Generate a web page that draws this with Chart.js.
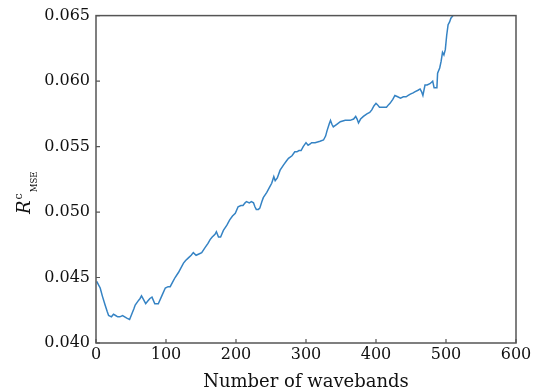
<!DOCTYPE html>
<html>
<head>
<meta charset="utf-8">
<script src="https://cdn.jsdelivr.net/npm/chart.js@4/dist/chart.umd.min.js"></script>
<style>
html,body{margin:0;padding:0;background:#fff;}
#wrap{width:542px;height:392px;position:relative;}
</style>
</head>
<body>
<div id="wrap"><canvas id="c" width="542" height="392"></canvas></div>
<script>
// Data
const wavebands = [1,4,6,9,13,16,18,22,25,28,31,34,38,41,44,48,51,54,56,60,63,65,67,71,74,77,80,84,89,94,99,103,106,110,113,118,121,125,128,132,136,139,143,147,151,156,160,163,166,170,172,175,178,182,187,191,195,199,203,207,210,213,215,219,222,225,227,229,232,234,237,239,244,248,251,254,256,259,263,268,272,275,280,284,287,290,293,296,300,303,306,308,313,320,325,328,330,333,335,337,339,344,349,356,363,368,371,373,375,378,382,387,391,394,397,400,402,405,408,412,415,418,420,424,427,431,435,439,443,446,449,453,456,460,463,465,467,470,473,477,481,483,485,487,488,491,493,495,497,499,501,503,505,507,510];
const rmse = [0.0447,0.0444,0.0442,0.0436,0.0429,0.0424,0.0421,0.0420,0.0422,0.0421,0.0420,0.0420,0.0421,0.0420,0.0419,0.0418,0.0422,0.0426,0.0429,0.0432,0.0434,0.0436,0.0434,0.0430,0.0432,0.0434,0.0435,0.0430,0.0430,0.0436,0.0442,0.0443,0.0443,0.0447,0.0450,0.0454,0.0457,0.0461,0.0463,0.0465,0.0467,0.0469,0.0467,0.0468,0.0469,0.0473,0.0476,0.0479,0.0481,0.0483,0.0485,0.0481,0.0481,0.0486,0.0490,0.0494,0.0497,0.0499,0.0504,0.0505,0.0505,0.0507,0.0508,0.0507,0.0508,0.0507,0.0504,0.0502,0.0502,0.0503,0.0508,0.0511,0.0515,0.0519,0.0522,0.0527,0.0524,0.0526,0.0532,0.0536,0.0539,0.0541,0.0543,0.0546,0.0546,0.0547,0.0547,0.0550,0.0553,0.0551,0.0552,0.0553,0.0553,0.0554,0.0555,0.0558,0.0562,0.0567,0.0570,0.0567,0.0565,0.0567,0.0569,0.0570,0.0570,0.0571,0.0573,0.0571,0.0568,0.0571,0.0573,0.0575,0.0576,0.0578,0.0581,0.0583,0.0582,0.0580,0.0580,0.0580,0.0580,0.0582,0.0583,0.0586,0.0589,0.0588,0.0587,0.0588,0.0588,0.0589,0.0590,0.0591,0.0592,0.0593,0.0594,0.0592,0.0589,0.0597,0.0597,0.0598,0.0600,0.0595,0.0595,0.0595,0.0606,0.0610,0.0615,0.0622,0.0620,0.0624,0.0635,0.0643,0.0645,0.0648,0.0650];
const xTicks = [0,100,200,300,400,500,600];
const yTicks = [0.040,0.045,0.050,0.055,0.060,0.065];
const xTitle = 'Number of wavebands';
const yTitleMain = 'R', yTitleSup = 'c', yTitleSub = 'MSE';

const points = wavebands.map((x,i)=>({x:x,y:rmse[i]}));
const SERIF = '"DejaVu Serif", "Liberation Serif", serif';

const framePlugin = {
  id:'frame',
  afterDraw(chart){
    const {ctx, chartArea:a, scales} = chart;
    ctx.save();
    ctx.strokeStyle = '#555';
    ctx.lineWidth = 1.5;
    ctx.strokeRect(a.left, a.top, a.right-a.left, a.bottom-a.top);
    ctx.lineWidth = 1.2;
    ctx.beginPath();
    yTicks.forEach(v=>{
      const y = scales.y.getPixelForValue(v);
      ctx.moveTo(a.left, y); ctx.lineTo(a.left+4, y);
    });
    xTicks.forEach(v=>{
      const x = scales.x.getPixelForValue(v);
      ctx.moveTo(x, a.bottom); ctx.lineTo(x, a.bottom-4);
    });
    ctx.stroke();
    // y title: italic R with superscript c and subscript MSE
    ctx.fillStyle = '#111';
    ctx.translate(30, 214);
    ctx.rotate(-Math.PI/2);
    ctx.textBaseline = 'alphabetic';
    ctx.textAlign = 'left';
    ctx.font = 'italic 18px ' + SERIF;
    ctx.fillText(yTitleMain, 0, 0);
    let w = ctx.measureText(yTitleMain).width;
    ctx.font = '11px ' + SERIF;
    ctx.fillText(yTitleSup, w + 1, -8);
    w += ctx.measureText(yTitleSup).width + 2;
    ctx.font = '8.5px ' + SERIF;
    ctx.fillText(yTitleSub, w, 7);
    ctx.restore();
  }
};

new Chart(document.getElementById('c'), {
  type:'line',
  data:{datasets:[{
    data: points,
    borderColor:'#3583c4',
    borderWidth:1.5,
    pointRadius:0,
    tension:0,
    fill:false,
    clip: {left:0, top:0, right:0, bottom:0}
  }]},
  options:{
    responsive:false,
    animation:false,
    layout:{padding:{left:0, top:12, right:26, bottom:0}},
    plugins:{legend:{display:false}, tooltip:{enabled:false}},
    scales:{
      x:{
        type:'linear', min:0, max:600,
        afterBuildTicks(s){ s.ticks = xTicks.map(v=>({value:v})); },
        afterFit(s){ s.height = 49; },
        grid:{display:false, drawTicks:false},
        border:{display:false},
        ticks:{padding:2, color:'#111', font:{family:SERIF, size:16}, maxRotation:0, callback:v=>String(v)},
        title:{display:true, text:xTitle, color:'#111', font:{family:SERIF, size:18}, padding:{top:0,bottom:-1}}
      },
      y:{
        type:'linear', min:0.040, max:0.065,
        afterBuildTicks(s){ s.ticks = yTicks.map(v=>({value:v})); },
        afterFit(s){ s.width = 96; },
        grid:{display:false, drawTicks:false},
        border:{display:false},
        ticks:{padding:6, color:'#111', font:{family:SERIF, size:16}, callback:v=>v.toFixed(3)}
      }
    }
  },
  plugins:[framePlugin]
});
</script>
</body>
</html>
